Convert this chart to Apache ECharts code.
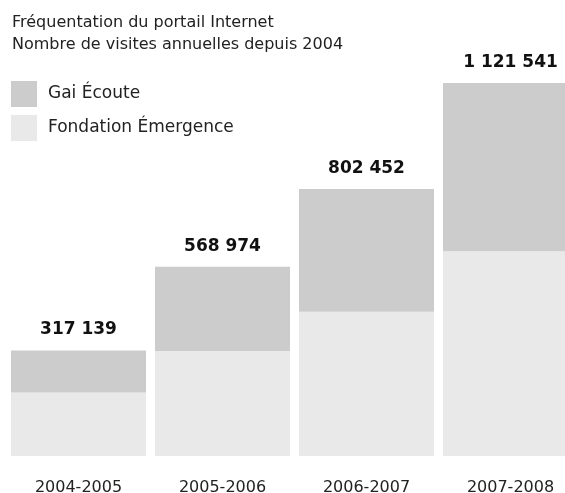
<!DOCTYPE html>
<html>
<head>
<meta charset="utf-8">
<script src="https://cdn.jsdelivr.net/npm/echarts@6/dist/echarts.min.js"></script>
<style>
html,body{margin:0;padding:0;background:#fff;}
#chart{width:565px;height:493px;}
</style>
</head>
<body>
<div id="chart"></div>
<script>
const periods = ['2004-2005', '2005-2006', '2006-2007', '2007-2008'];
const totals = [317139, 568974, 802452, 1121541];
const fondation = [191000, 316000, 434000, 616000];
const gaiEcoute = [126139, 252974, 368452, 505541];

function fmt(n){
	return String(n).replace(/\B(?=(\d{3})+(?!\d))/g, ' ');
}

let myChart = echarts.init(document.getElementById('chart'));
let option = {
	animation: false,
	textStyle: {fontFamily: 'DejaVu Sans'},
	title: {
		text: 'Fréquentation du portail Internet\nNombre de visites annuelles depuis 2004',
		left: 7,
		top: 7,
		textStyle: {fontSize: 16, fontWeight: 'normal', color: '#222', lineHeight: 22, fontFamily: 'DejaVu Sans'}
	},
	legend: {
		orient: 'vertical',
		left: 6,
		top: 76,
		itemWidth: 26,
		itemHeight: 26,
		itemGap: 8,
		icon: 'rect',
		data: ['Gai Écoute', 'Fondation Émergence'],
		textStyle: {fontSize: 17, color: '#222', padding: [0, 0, 0, 6], fontFamily: 'DejaVu Sans'}
	},
	grid: {left: 6.5, width: 576, top: 83, bottom: 37, containLabel: false, outerBoundsMode: 'none'},
	xAxis: {
		type: 'category',
		data: periods,
		axisLine: {show: false},
		axisTick: {show: false},
		axisLabel: {fontSize: 16, color: '#222', margin: 24, fontFamily: 'DejaVu Sans'}
	},
	yAxis: {
		type: 'value',
		min: 0,
		max: 1121541,
		show: false,
		splitLine: {show: false}
	},
	series: [
		{
			name: 'Fondation Émergence',
			type: 'bar',
			stack: 'total',
			barCategoryGap: '6.25%',
			data: fondation,
			itemStyle: {color: '#e9e9e9'}
		},
		{
			name: 'Gai Écoute',
			type: 'bar',
			stack: 'total',
			barCategoryGap: '6.25%',
			data: gaiEcoute,
			itemStyle: {color: '#cccccc'},
			label: {
				show: true,
				position: 'top',
				distance: 12,
				fontSize: 17,
				fontWeight: 'bold',
				color: '#111',
				fontFamily: 'DejaVu Sans',
				formatter: (p) => fmt(totals[p.dataIndex])
			}
		}
	]
};
myChart.setOption(option, true);
</script>
</body>
</html>
